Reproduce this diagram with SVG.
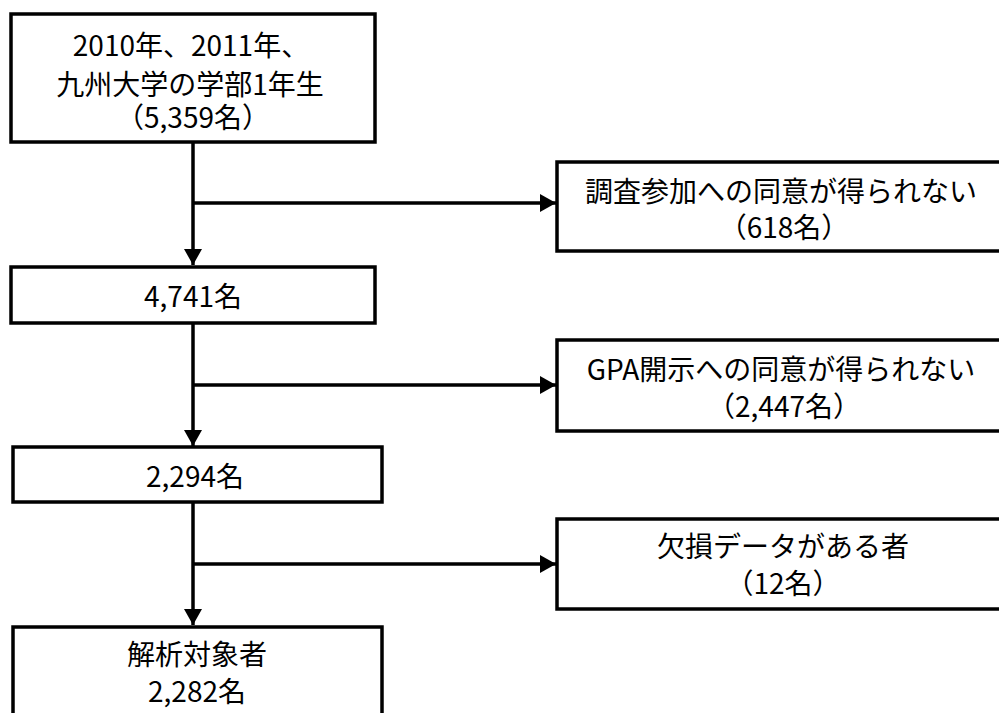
<svg xmlns="http://www.w3.org/2000/svg" width="999" height="713" viewBox="0 0 999 713">
<style>
.box{fill:#fff;stroke:#000;stroke-width:3.5}
.t{font-family:"Noto Sans CJK JP","Noto Sans CJK SC",sans-serif;font-size:28px;fill:#000;text-anchor:middle}
.ln{stroke:#000;stroke-width:3.5;fill:none}
</style>
<defs>
<marker id="ah" markerUnits="userSpaceOnUse" markerWidth="18" markerHeight="18" refX="16" refY="9" orient="auto">
<path d="M0,0 L16,9 L0,18 Z" fill="#000"/>
</marker>
</defs>
<rect width="999" height="713" fill="#fff"/>
<g id="connectors">
<line class="ln" x1="193" y1="142" x2="193" y2="265" marker-end="url(#ah)"/>
<line class="ln" x1="193" y1="203" x2="556" y2="203" marker-end="url(#ah)"/>
<line class="ln" x1="193" y1="323" x2="193" y2="446" marker-end="url(#ah)"/>
<line class="ln" x1="193" y1="385" x2="556" y2="385" marker-end="url(#ah)"/>
<line class="ln" x1="193" y1="502" x2="193" y2="625" marker-end="url(#ah)"/>
<line class="ln" x1="193" y1="564" x2="556" y2="564" marker-end="url(#ah)"/>
</g>
<g id="n1">
<rect class="box" x="11" y="14" width="364" height="128"/>
<text class="t" x="191" y="56">2010年、2011年、</text>
<text class="t" x="190" y="95">九州大学の学部1年生</text>
<text class="t" x="193" y="128">（5,359名）</text>
</g>
<g id="n2">
<rect class="box" x="11" y="267" width="364" height="56"/>
<text class="t" x="193" y="307">4,741名</text>
</g>
<g id="n3">
<rect class="box" x="13" y="447" width="369" height="55"/>
<text class="t" x="195" y="487">2,294名</text>
</g>
<g id="n4">
<rect class="box" x="13" y="627" width="369" height="100"/>
<text class="t" x="197" y="665">解析対象者</text>
<text class="t" x="197" y="702">2,282名</text>
</g>
<g id="e1">
<rect class="box" x="557" y="162" width="460" height="89"/>
<text class="t" x="781" y="202">調査参加への同意が得られない</text>
<text class="t" x="784" y="238">（618名）</text>
</g>
<g id="e2">
<rect class="box" x="557" y="340" width="460" height="91"/>
<text class="t" x="781" y="380">GPA開示への同意が得られない</text>
<text class="t" x="784" y="417">（2,447名）</text>
</g>
<g id="e3">
<rect class="box" x="557" y="519" width="460" height="90"/>
<text class="t" x="783" y="557">欠損データがある者</text>
<text class="t" x="783" y="594">（12名）</text>
</g>
</svg>
